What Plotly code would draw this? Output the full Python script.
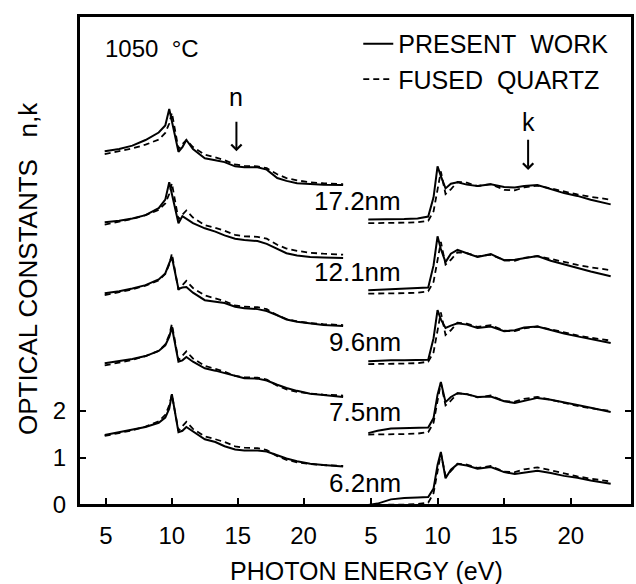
import plotly.graph_objects as go

# ---------------- data ----------------
THICKNESS_LABELS = ["6.2nm", "7.5nm", "9.6nm", "12.1nm", "17.2nm"]
OFFSETS = [0.0, 1.5, 3.0, 4.5, 6.0]

E_N = [4.9, 6, 7, 8, 9, 9.5, 9.8, 10.0, 10.5, 10.8, 11.1, 11.6, 12.5, 13.3, 14,
       14.8, 15.5, 16.5, 17.2, 18, 18.7, 19.5, 20.5, 21.5, 23]

N_62 = [1.49, 1.55, 1.60, 1.66, 1.75, 1.86, 2.05, 2.36, 1.55, 1.58, 1.66, 1.57, 1.40,
        1.34, 1.25, 1.18, 1.16, 1.16, 1.14, 1.06, 0.99, 0.93, 0.88, 0.85, 0.82]
N_75 = [1.52, 1.56, 1.61, 1.67, 1.78, 1.90, 2.08, 2.29, 1.55, 1.58, 1.65, 1.55, 1.41,
        1.36, 1.31, 1.24, 1.20, 1.19, 1.15, 1.06, 0.99, 0.93, 0.87, 0.84, 0.80]
N_96 = [1.51, 1.55, 1.61, 1.68, 1.80, 1.93, 2.15, 2.28, 1.60, 1.63, 1.64, 1.52, 1.36,
        1.33, 1.30, 1.22, 1.19, 1.17, 1.13, 1.04, 0.95, 0.90, 0.86, 0.83, 0.81]
N_121 = [1.52, 1.55, 1.60, 1.67, 1.82, 2.00, 2.37, 2.10, 1.50, 1.65, 1.60, 1.50, 1.39,
         1.32, 1.24, 1.17, 1.14, 1.12, 1.06, 0.95, 0.86, 0.81, 0.78, 0.77, 0.76]
N_172 = [1.53, 1.58, 1.65, 1.77, 1.93, 2.08, 2.43, 2.15, 1.52, 1.62, 1.77, 1.58, 1.38,
         1.34, 1.30, 1.21, 1.19, 1.19, 1.14, 0.96, 0.90, 0.85, 0.83, 0.82, 0.81]
N_FQ = [1.47, 1.53, 1.59, 1.67, 1.78, 1.92, 2.12, 2.35, 1.58, 1.68, 1.77, 1.62, 1.46,
        1.40, 1.34, 1.25, 1.22, 1.21, 1.17, 1.04, 0.96, 0.91, 0.87, 0.85, 0.83]

E_K = [4.8, 5.5, 6.5, 7.5, 8.5, 9.3, 9.7, 10.0, 10.25, 10.6, 11.0, 11.5, 12.2, 13,
       14, 15, 15.8, 16.5, 17.5, 18.5, 19.5, 20.5, 21.5, 23]

K_62 = [0.00, 0.03, 0.12, 0.15, 0.16, 0.17, 0.35, 0.85, 1.13, 0.57, 0.75, 0.87, 0.84,
        0.77, 0.81, 0.70, 0.66, 0.69, 0.73, 0.68, 0.62, 0.58, 0.52, 0.45]
K_75 = [0.03, 0.08, 0.13, 0.14, 0.14, 0.15, 0.35, 0.85, 1.12, 0.69, 0.80, 0.88, 0.86,
        0.80, 0.81, 0.71, 0.67, 0.72, 0.78, 0.74, 0.69, 0.63, 0.57, 0.48]
K_96 = [0.06, 0.07, 0.08, 0.08, 0.08, 0.09, 0.55, 1.15, 0.95, 0.77, 0.82, 0.87, 0.84,
        0.77, 0.80, 0.70, 0.72, 0.78, 0.80, 0.72, 0.65, 0.59, 0.53, 0.45]
K_121 = [0.07, 0.08, 0.09, 0.10, 0.11, 0.13, 0.60, 1.22, 0.95, 0.67, 0.85, 0.93, 0.86,
         0.78, 0.84, 0.71, 0.72, 0.75, 0.80, 0.70, 0.62, 0.54, 0.47, 0.37]
K_172 = [0.08, 0.08, 0.09, 0.09, 0.10, 0.14, 0.55, 1.21, 1.00, 0.74, 0.84, 0.87, 0.82,
         0.79, 0.83, 0.77, 0.76, 0.79, 0.81, 0.72, 0.64, 0.58, 0.50, 0.40]
K_FQ = [0.00, 0.00, 0.00, 0.01, 0.02, 0.05, 0.25, 0.75, 1.10, 0.62, 0.72, 0.88, 0.86,
        0.79, 0.83, 0.71, 0.70, 0.76, 0.80, 0.74, 0.67, 0.61, 0.56, 0.50]

N_SERIES = [N_62, N_75, N_96, N_121, N_172]
K_SERIES = [K_62, K_75, K_96, K_121, K_172]

X_TICKS = [5, 10, 15, 20]
Y_TICKS = [0, 1, 2]

# ---------------- figure ----------------
FONT = "Liberation Sans, Arial, sans-serif"
fig = go.Figure()

for i, (lab, off) in enumerate(zip(THICKNESS_LABELS, OFFSETS)):
    fig.add_trace(go.Scatter(
        x=E_N, y=[v + off for v in N_SERIES[i]], xaxis="x", yaxis="y",
        mode="lines", line=dict(color="black", width=2),
        name="PRESENT\u00a0\u00a0WORK", legendgroup="pw", showlegend=(i == 0),
        legendrank=1))
    fig.add_trace(go.Scatter(
        x=E_K, y=[v + off for v in K_SERIES[i]], xaxis="x2", yaxis="y2",
        mode="lines", line=dict(color="black", width=2),
        name="PRESENT WORK", legendgroup="pw", showlegend=False))

for i, off in enumerate(OFFSETS):
    fig.add_trace(go.Scatter(
        x=E_N, y=[v + off for v in N_FQ], xaxis="x", yaxis="y",
        mode="lines", line=dict(color="black", width=1.8, dash="6px,4px"),
        name="FUSED\u00a0\u00a0QUARTZ", legendgroup="fq", showlegend=(i == 0),
        legendrank=2))
    fig.add_trace(go.Scatter(
        x=E_K, y=[v + off for v in K_FQ], xaxis="x2", yaxis="y2",
        mode="lines", line=dict(color="black", width=1.8, dash="6px,4px"),
        name="FUSED QUARTZ", legendgroup="fq", showlegend=False))

SPLIT = 0.480
tick_common = dict(ticks="inside", ticklen=7, tickwidth=2, tickcolor="black",
                   showgrid=False, zeroline=False,
                   showline=True, linecolor="black", linewidth=2,
                   tickfont=dict(family=FONT, size=24, color="black"))

fig.update_layout(
    width=636, height=584,
    margin=dict(l=79, r=4, t=16, b=79),
    paper_bgcolor="white", plot_bgcolor="white",
    font=dict(family=FONT, color="black", size=24),
    xaxis=dict(domain=[0, SPLIT], range=[2.95, 23.1], anchor="y", mirror=True,
               tickvals=X_TICKS, ticklabelstandoff=8, **tick_common),
    xaxis2=dict(domain=[SPLIT, 1], range=[3.01, 24.6], anchor="y2", mirror=True,
                tickvals=X_TICKS, ticklabelstandoff=8, **tick_common),
    yaxis=dict(range=[0, 10.41], anchor="x", tickvals=Y_TICKS,
               ticktext=[str(t) for t in Y_TICKS], ticklabelstandoff=6, **tick_common),
    yaxis2=dict(range=[0, 10.41], anchor="x2", matches="y", side="right",
                tickvals=Y_TICKS, showticklabels=False, **tick_common),
    legend=dict(x=0.505, y=0.99, xanchor="left", yanchor="top",
                bgcolor="rgba(0,0,0,0)", borderwidth=0,
                font=dict(family=FONT, size=25, color="black"),
                itemwidth=30, tracegroupgap=0),
    shapes=[dict(type="rect", xref="paper", yref="paper", x0=0, x1=1, y0=0, y1=1,
                 layer="above", line=dict(color="black", width=2))],
)

ann = []
ann.append(dict(text="1050\u00a0\u00a0°C", xref="paper", yref="paper", x=(103 - 79) / 553,
                y=(505 - 48) / 489, xanchor="left", yanchor="middle",
                showarrow=False, font=dict(size=24)))
ann.append(dict(text="n", xref="x", yref="y", x=14.9, y=8.68, xanchor="center",
                yanchor="middle", showarrow=False, font=dict(size=25)))
ann.append(dict(text="k", xref="x2", yref="y2", x=16.8, y=8.15, xanchor="center",
                yanchor="middle", showarrow=False, font=dict(size=25)))
ann.append(dict(text="", xref="x", yref="y", x=14.9, y=7.53, ax=14.9, ay=8.19,
                axref="x", ayref="y", showarrow=True, arrowhead=4, arrowsize=1,
                arrowwidth=2, arrowcolor="black"))
ann.append(dict(text="", xref="x2", yref="y2", x=16.8, y=7.13, ax=16.8, ay=7.81,
                axref="x2", ayref="y2", showarrow=True, arrowhead=4, arrowsize=1,
                arrowwidth=2, arrowcolor="black"))
for lab, off in zip(THICKNESS_LABELS, OFFSETS):
    ann.append(dict(text=lab, xref="x2", yref="y2", x=7.4, y=off + 0.47,
                    xanchor="right", yanchor="middle", showarrow=False,
                    font=dict(size=26)))
ann.append(dict(text="PHOTON ENERGY (eV)", xref="paper", yref="paper",
                x=(366 - 79) / 553, y=(505 - 571) / 489, xanchor="center",
                yanchor="middle", showarrow=False, font=dict(size=25)))
ann.append(dict(text="OPTICAL CONSTANTS\u00a0\u00a0\u00a0n,k", xref="paper", yref="paper",
                x=(28 - 79) / 553, y=(505 - 269) / 489, xanchor="center",
                yanchor="middle", textangle=-90, showarrow=False,
                font=dict(size=26)))
fig.update_layout(annotations=ann)

fig.write_html("out.html")
